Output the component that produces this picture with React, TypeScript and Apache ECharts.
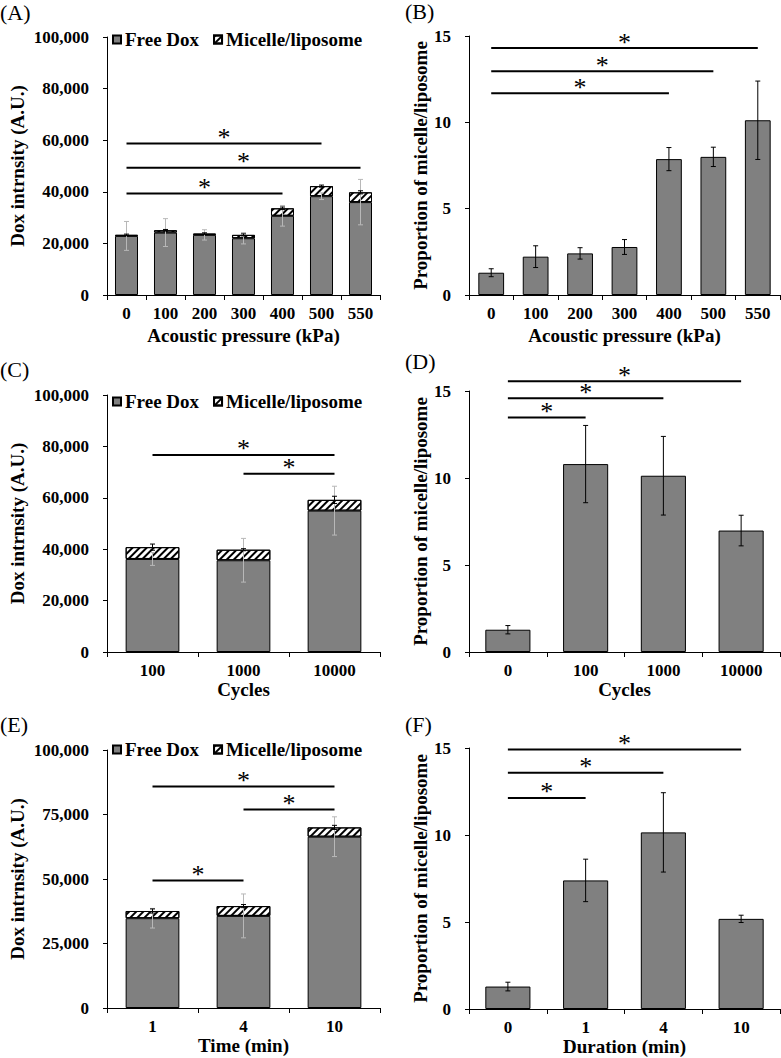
import React, { useEffect, useRef } from "react";
import * as echarts from "echarts";

// ---------- data ----------
const pressureCats = ["0", "100", "200", "300", "400", "500", "550"];
const aFree = [22900, 24200, 23300, 22000, 30700, 38300, 36000];
const aMicelle = [400, 900, 500, 1300, 2900, 3900, 3800];
const aFreeErr = [5600, 5400, 2000, 2200, 4000, 1300, 8800];
const aMicErr = [300, 300, 300, 400, 500, 400, 600];
const aSig = [[0, 5, 58700], [0, 6, 49300], [0, 4, 39300]];

const bProp = [1.29, 2.22, 2.41, 2.78, 7.87, 8.0, 10.12];
const bErr = [0.23, 0.63, 0.33, 0.43, 0.67, 0.56, 2.27];
const bSig = [[0, 6, 14.3], [0, 5, 12.96], [0, 4, 11.68]];

const cyclesCats = ["100", "1000", "10000"];
const cFree = [36200, 35700, 55000];
const cMicelle = [4600, 4100, 4200];
const cFreeErr = [2500, 8500, 9500];
const cMicErr = [1200, 400, 1400];
const cSig = [[0, 2, 76700], [1, 2, 69400]];

const cyclesCatsD = ["0", "100", "1000", "10000"];
const dProp = [1.28, 10.8, 10.13, 6.98];
const dErr = [0.24, 2.22, 2.26, 0.88];
const dSig = [[0, 3, 15.56], [0, 2, 14.58], [0, 1, 13.48]];

const timeCats = ["1", "4", "10"];
const eFree = [34800, 35700, 66400];
const eMicelle = [2800, 3800, 3600];
const eFreeErr = [3800, 8500, 7700];
const eMicErr = [800, 600, 800];
const eSig = [[0, 2, 85900], [1, 2, 76900], [0, 1, 49400]];

const durationCats = ["0", "1", "4", "10"];
const fProp = [1.29, 7.39, 10.15, 5.18];
const fErr = [0.25, 1.22, 2.28, 0.21];
const fSig = [[0, 3, 14.92], [0, 2, 13.58], [0, 1, 12.13]];

const panelLabels = ["(A)", "(B)", "(C)", "(D)", "(E)", "(F)"];
const legendNames = ["Free Dox", "Micelle/liposome"];
const intensityName = "Dox intrnsity (A.U.)";
const propName = "Proportion of micelle/liposome";

// ---------- styling ----------
const FONT = '"Liberation Serif", "Times New Roman", serif';
const BAR_GRAY = "#808080";

const grids = [
  { left: 107, top: 37, width: 273, height: 258 },
  { left: 469, top: 36, width: 311, height: 259 },
  { left: 107, top: 395, width: 273, height: 257 },
  { left: 469, top: 391, width: 311, height: 261 },
  { left: 107, top: 750, width: 273, height: 258 },
  { left: 469, top: 748, width: 311, height: 261 },
];

function xAxis(gridIndex: number, cats: string[], name: string, nameGap: number) {
  return {
    type: "category",
    gridIndex,
    data: cats,
    name,
    nameLocation: "middle",
    nameGap,
    nameTextStyle: { fontFamily: FONT, fontWeight: "bold", fontSize: 19, color: "#000" },
    axisLine: { lineStyle: { color: "#000", width: 1 } },
    axisTick: { show: true, length: 5, lineStyle: { color: "#000" } },
    axisLabel: { fontFamily: FONT, fontWeight: "bold", fontSize: 17, color: "#000", margin: 10 },
    splitLine: { show: false },
  };
}

function yAxis(gridIndex: number, max: number, interval: number, name: string, nameGap: number, thousands: boolean) {
  return {
    type: "value",
    gridIndex,
    min: 0,
    max,
    interval,
    name,
    nameLocation: "middle",
    nameGap,
    nameRotate: 90,
    nameTextStyle: { fontFamily: FONT, fontWeight: "bold", fontSize: 19, color: "#000" },
    axisLine: { show: true, lineStyle: { color: "#000", width: 1 } },
    axisTick: { show: true, length: 4, lineStyle: { color: "#000" } },
    axisLabel: {
      fontFamily: FONT,
      fontWeight: "bold",
      fontSize: 17,
      color: "#000",
      margin: 18,
      formatter: thousands ? (v: number) => v.toLocaleString("en-US") : (v: number) => String(v),
    },
    splitLine: { show: false },
  };
}

const decal = {
  symbol: "rect",
  symbolSize: 1,
  color: "#000",
  dashArrayX: [1, 0],
  dashArrayY: [2, 3],
  rotation: -Math.PI / 4,
};

function errorSeries(idx: number, centers: number[], errs: number[], color: string, z: number) {
  return {
    type: "custom",
    xAxisIndex: idx,
    yAxisIndex: idx,
    z,
    silent: true,
    encode: { x: 0, y: 1 },
    data: centers.map((c, i) => [i, c, errs[i]]),
    renderItem: (params: any, api: any) => {
      const x = api.value(0);
      const c = api.value(1);
      const e = api.value(2);
      const top = api.coord([x, c + e]);
      const bot = api.coord([x, c - e]);
      const w = 2.5;
      const st = { stroke: color, lineWidth: 1 };
      return {
        type: "group",
        children: [
          { type: "line", shape: { x1: top[0], y1: top[1], x2: bot[0], y2: bot[1] }, style: st },
          { type: "line", shape: { x1: top[0] - w, y1: top[1], x2: top[0] + w, y2: top[1] }, style: st },
          { type: "line", shape: { x1: bot[0] - w, y1: bot[1], x2: bot[0] + w, y2: bot[1] }, style: st },
        ],
      };
    },
  };
}

function sigSeries(idx: number, sig: number[][]) {
  return {
    type: "custom",
    xAxisIndex: idx,
    yAxisIndex: idx,
    z: 10,
    silent: true,
    clip: false,
    encode: { x: [0, 1], y: 2 },
    data: sig,
    renderItem: (params: any, api: any) => {
      const p1 = api.coord([api.value(0), api.value(2)]);
      const p2 = api.coord([api.value(1), api.value(2)]);
      const mid = (p1[0] + p2[0]) / 2;
      return {
        type: "group",
        children: [
          {
            type: "line",
            shape: { x1: p1[0], y1: p1[1], x2: p2[0], y2: p2[1] },
            style: { stroke: "#000", lineWidth: 2 },
          },
          {
            type: "text",
            style: {
              text: "*",
              x: mid,
              y: p1[1] - 6,
              align: "center",
              verticalAlign: "middle",
              textAlign: "center",
              textVerticalAlign: "middle",
              fontSize: 26,
              fontFamily: FONT,
              fill: "#000",
            },
          },
        ],
      };
    },
  };
}

function stackedBars(idx: number, free: number[], mic: number[]) {
  return [
    {
      type: "bar",
      name: legendNames[0],
      xAxisIndex: idx,
      yAxisIndex: idx,
      stack: "s" + idx,
      barCategoryGap: "41%",
      data: free,
      itemStyle: { color: BAR_GRAY, borderColor: "#000", borderWidth: 1 },
    },
    {
      type: "bar",
      name: legendNames[1],
      xAxisIndex: idx,
      yAxisIndex: idx,
      stack: "s" + idx,
      barCategoryGap: "41%",
      data: mic,
      itemStyle: { color: "#fff", borderColor: "#000", borderWidth: 1, decal },
    },
  ];
}

function propBars(idx: number, vals: number[]) {
  return {
    type: "bar",
    name: "Proportion",
    xAxisIndex: idx,
    yAxisIndex: idx,
    barCategoryGap: "42%",
    data: vals,
    itemStyle: { color: BAR_GRAY, borderColor: "#000", borderWidth: 1 },
  };
}

function legend(top: number) {
  return {
    left: 112,
    top,
    padding: 0,
    data: legendNames,
    icon: "rect",
    itemWidth: 8,
    itemHeight: 8,
    itemGap: 14,
    selectedMode: false,
    textStyle: { fontFamily: FONT, fontWeight: "bold", fontSize: 19, color: "#000", padding: [0, 0, 0, -1] },
  };
}

const labelPos = [
  [0, 13],
  [405, 12],
  [0, 370],
  [405, 362],
  [0, 725],
  [405, 725],
];

export default function App() {
  const ref = useRef<HTMLDivElement>(null);
  useEffect(() => {
    if (!ref.current) return;
    const chart = echarts.init(ref.current, undefined, { renderer: "svg" });
    const totals = (f: number[], m: number[]) => f.map((v, i) => v + m[i]);
    chart.setOption({
      animation: false,
      backgroundColor: "#fff",
      grid: grids,
      legend: [legend(30), legend(392), legend(740)],
      xAxis: [
        xAxis(0, pressureCats, "Acoustic pressure (kPa)", 31),
        xAxis(1, pressureCats, "Acoustic pressure (kPa)", 31),
        xAxis(2, cyclesCats, "Cycles", 27),
        xAxis(3, cyclesCatsD, "Cycles", 27),
        xAxis(4, timeCats, "Time (min)", 28),
        xAxis(5, durationCats, "Duration (min)", 28),
      ],
      yAxis: [
        yAxis(0, 100000, 20000, intensityName, 80, true),
        yAxis(1, 15, 5, propName, 37, false),
        yAxis(2, 100000, 20000, intensityName, 80, true),
        yAxis(3, 15, 5, propName, 37, false),
        yAxis(4, 100000, 25000, intensityName, 80, true),
        yAxis(5, 15, 5, propName, 37, false),
      ],
      series: [
        ...stackedBars(0, aFree, aMicelle),
        errorSeries(0, aFree, aFreeErr, "#b8b8b8", 5),
        errorSeries(0, totals(aFree, aMicelle), aMicErr, "#000", 6),
        sigSeries(0, aSig),
        propBars(1, bProp),
        errorSeries(1, bProp, bErr, "#000", 5),
        sigSeries(1, bSig),
        ...stackedBars(2, cFree, cMicelle),
        errorSeries(2, cFree, cFreeErr, "#b8b8b8", 5),
        errorSeries(2, totals(cFree, cMicelle), cMicErr, "#000", 6),
        sigSeries(2, cSig),
        propBars(3, dProp),
        errorSeries(3, dProp, dErr, "#000", 5),
        sigSeries(3, dSig),
        ...stackedBars(4, eFree, eMicelle),
        errorSeries(4, eFree, eFreeErr, "#b8b8b8", 5),
        errorSeries(4, totals(eFree, eMicelle), eMicErr, "#000", 6),
        sigSeries(4, eSig),
        propBars(5, fProp),
        errorSeries(5, fProp, fErr, "#000", 5),
        sigSeries(5, fSig),
      ],
      graphic: panelLabels.map((t, i) => ({
        type: "text",
        left: labelPos[i][0],
        top: labelPos[i][1] - 12,
        style: {
          text: t,
          font: `22px ${FONT}`,
          fontSize: 22,
          fontFamily: FONT,
          fill: "#000",
        },
      })),
    });
    return () => chart.dispose();
  }, []);
  return (
    <div
      ref={ref}
      style={{ position: "fixed", left: 0, top: 0, width: 781, height: 1058, background: "#fff" }}
    />
  );
}
